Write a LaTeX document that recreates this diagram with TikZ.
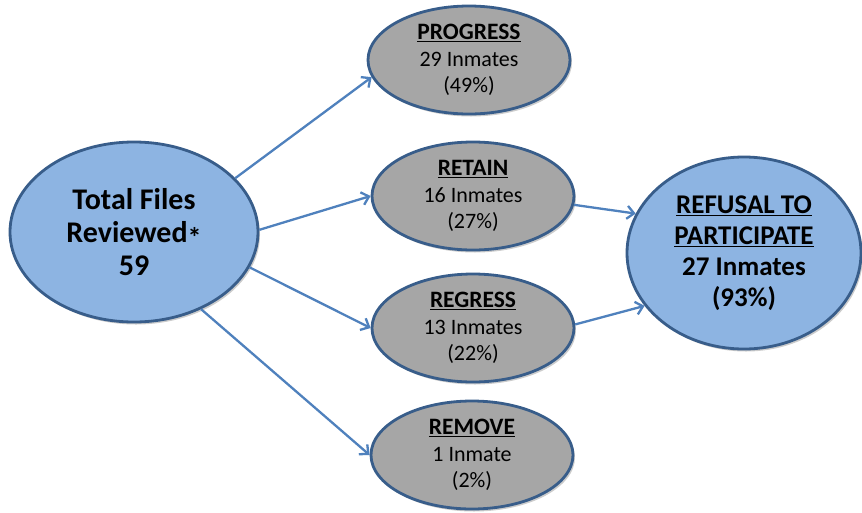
\documentclass[tikz,border=0pt]{standalone}
\usepackage{fontspec}
\setmainfont{Carlito}
\usetikzlibrary{shapes.geometric,shadows,arrows.meta}
\definecolor{bluefill}{RGB}{141,180,226}
\definecolor{blueline}{RGB}{56,93,138}
\definecolor{grayfill}{RGB}{166,166,166}
\definecolor{arrowblue}{RGB}{79,129,189}
\newcommand{\ttl}[1]{{\bfseries\fontsize{23.5}{26}\selectfont\underline{#1}}}
\begin{document}
\begin{tikzpicture}[x=1pt,y=-1pt,
  oval/.style={ellipse, draw=blueline, line width=2.8pt, inner sep=0pt, align=center,
    drop shadow={shadow xshift=2pt,shadow yshift=-2.5pt,opacity=0.2,fill=black}},
  bigoval/.style={oval, fill=bluefill},
  grayoval/.style={oval, fill=grayfill, minimum width=202pt, minimum height=108pt,
    font=\fontsize{22}{26.5}\selectfont},
  conn/.style={draw=arrowblue, line width=2.3pt, -{Straight Barb[length=7pt,width=13pt]}}]
\fill[white] (0,0) rectangle (862,512);
\useasboundingbox (0,0) rectangle (862,512);

\node[bigoval, minimum width=248pt, minimum height=180pt,
  font=\bfseries\fontsize{30}{33}\selectfont] (tot) at (134,232)
  {Total Files\\Reviewed{\fontsize{28}{28}\selectfont\raisebox{-5pt}{*}}\\59};

\node[grayoval] (prog) at (469,60) {\ttl{PROGRESS}\\29 Inmates\\(49\%)};
\node[grayoval] (ret) at (473,196) {\ttl{RETAIN}\\16 Inmates\\(27\%)};
\node[grayoval] (reg) at (473,328) {\ttl{REGRESS}\\13 Inmates\\(22\%)};
\node[grayoval] (rem) at (472,455) {\ttl{REMOVE}\\1 Inmate\\(2\%)};

\node[bigoval, minimum width=234pt, minimum height=192pt,
  font=\bfseries\fontsize{27}{31}\selectfont] (ref) at (744,253)
  {\underline{REFUSAL TO}\\\underline{PARTICIPATE}\\27 Inmates\\(93\%)};

\draw[conn] (tot.28) -- (prog.190);
\draw[conn] (tot.1) -- (ret.180);
\draw[conn] (tot.-17) -- (reg.180);
\draw[conn] (tot.-49) -- (rem.180);
\draw[conn] (ret.-5) -- (ref.160);
\draw[conn] (reg.2) -- (ref.208);
\end{tikzpicture}
\end{document}
